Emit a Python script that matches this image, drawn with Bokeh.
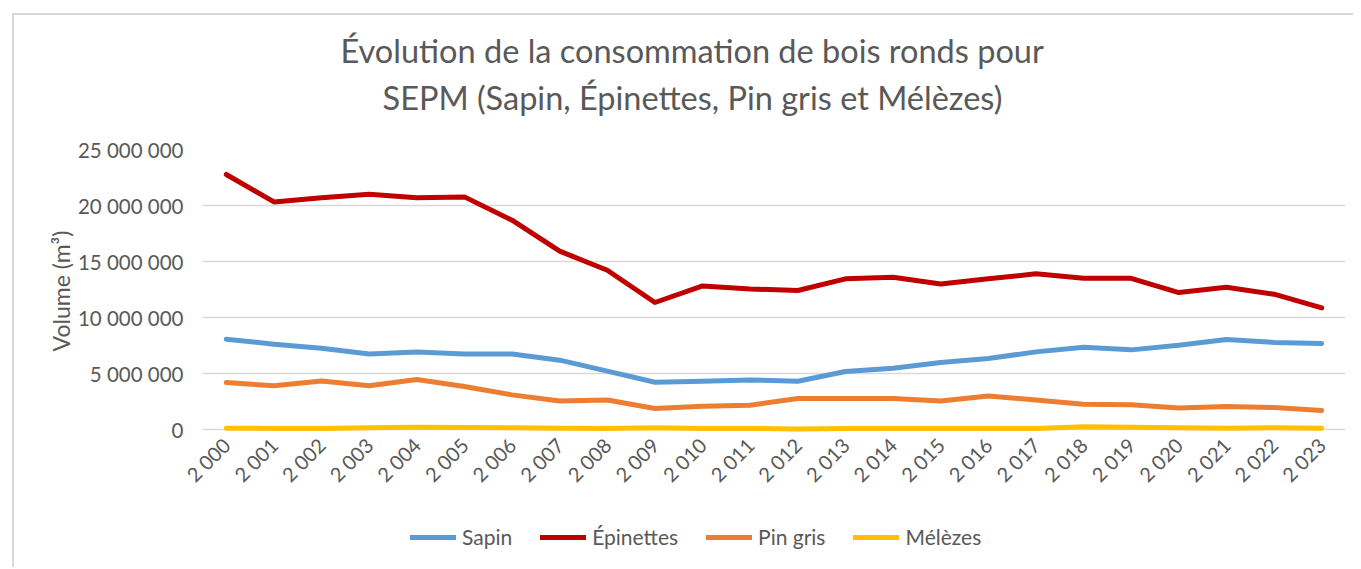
from bokeh.plotting import figure
from bokeh.layouts import column
from bokeh.models import (FactorRange, Range1d, FixedTicker, Legend, LegendItem, Title)
from bokeh.embed import file_html
from bokeh.resources import INLINE
import math

years = ["2 000", "2 001", "2 002", "2 003", "2 004", "2 005", "2 006", "2 007",
         "2 008", "2 009", "2 010", "2 011", "2 012", "2 013", "2 014", "2 015",
         "2 016", "2 017", "2 018", "2 019", "2 020", "2 021", "2 022", "2 023"]

sapin = [8060000, 7620000, 7260000, 6750000, 6930000, 6750000, 6750000, 6190000,
         5210000, 4220000, 4310000, 4430000, 4310000, 5180000, 5470000, 5980000,
         6340000, 6930000, 7350000, 7110000, 7530000, 8040000, 7770000, 7680000]

epinettes = [22770000, 20320000, 20700000, 21000000, 20700000, 20770000, 18690000, 15920000,
             14220000, 11340000, 12820000, 12550000, 12410000, 13450000, 13600000, 13000000,
             13450000, 13900000, 13500000, 13500000, 12230000, 12700000, 12080000, 10860000]

pin_gris = [4190000, 3900000, 4340000, 3900000, 4460000, 3840000, 3090000, 2550000,
            2640000, 1870000, 2080000, 2170000, 2770000, 2770000, 2770000, 2550000,
            3000000, 2640000, 2260000, 2200000, 1930000, 2050000, 1960000, 1700000]

melezes = [120000, 100000, 100000, 150000, 200000, 180000, 150000, 120000,
           100000, 150000, 100000, 100000, 50000, 80000, 80000, 80000,
           100000, 80000, 250000, 200000, 150000, 120000, 150000, 120000]

series_names = ["Sapin", "Épinettes", "Pin gris", "Mélèzes"]
series_colors = ["#5b9bd5", "#c00000", "#ed7d31", "#ffc000"]
series_values = [sapin, epinettes, pin_gris, melezes]

y_tick_values = [0, 5000000, 10000000, 15000000, 20000000, 25000000]
y_tick_labels = ["0", "5 000 000", "10 000 000", "15 000 000", "20 000 000", "25 000 000"]

title_lines = ["Évolution de la consommation de bois ronds pour",
               "SEPM (Sapin, Épinettes, Pin gris et Mélèzes)"]
y_label = "Volume (m³)"

FONT = "Lato"
TXT = "#595959"

# the whole chart sits inside a light frame whose top-left corner is at (12, 13)
OX, OY, BW = 12, 13, 2
W = 1339
H_MAIN, H_LEG = 484, 68
FL, FT, FR, FB = 188, 134, 8, 67
Y_MAX = 25000000
PAD_PX, GRID_PX = 3, 280          # a little room under 0 so the 0-level line is not cut
Y_MIN = -Y_MAX * PAD_PX / GRID_PX

p = figure(width=W, height=H_MAIN, x_range=FactorRange(*years), y_range=Range1d(Y_MIN, Y_MAX),
           output_backend="svg", toolbar_location=None,
           min_border_left=FL, min_border_top=FT, min_border_right=FR, min_border_bottom=FB)
p.outline_line_color = None
p.background_fill_color = "white"
p.border_fill_color = "white"

p.title.text = title_lines[0]
p.title.align = "left"
p.title.offset = 138
p.title.text_font = FONT
p.title.text_font_size = "32.5px"
p.title.text_font_style = "normal"
p.title.text_color = TXT
p.title.standoff = -55
p.add_layout(Title(text=title_lines[1], align="left", offset=180, text_font=FONT,
                   text_font_size="32.5px", text_font_style="normal", text_color=TXT,
                   standoff=66), "above")

p.xgrid.grid_line_color = None
p.ygrid.grid_line_color = "#d9d9d9"
p.ygrid.grid_line_width = 1.3

p.yaxis.ticker = FixedTicker(ticks=y_tick_values)
p.ygrid.ticker = FixedTicker(ticks=y_tick_values)
p.yaxis.major_label_overrides = dict(zip(y_tick_values, y_tick_labels))
p.yaxis.axis_line_color = None
p.yaxis.major_tick_line_color = None
p.yaxis.minor_tick_line_color = None
p.yaxis.major_label_text_font = FONT
p.yaxis.major_label_text_font_size = "20.5px"
p.yaxis.major_label_text_color = TXT
p.yaxis.major_label_standoff = 13
p.yaxis.axis_label = y_label
p.yaxis.axis_label_text_font = FONT
p.yaxis.axis_label_text_font_size = "23px"
p.yaxis.axis_label_text_font_style = "normal"
p.yaxis.axis_label_text_color = TXT
p.yaxis.axis_label_standoff = 0

p.xaxis.axis_line_color = None
p.xaxis.major_tick_line_color = None
p.xaxis.minor_tick_line_color = None
p.xaxis.major_label_text_font = FONT
p.xaxis.major_label_text_font_size = "20px"
p.xaxis.major_label_text_color = TXT
p.xaxis.major_label_orientation = math.pi / 4
p.xaxis.major_label_standoff = 3

for vals, col in zip(series_values, series_colors):
    p.line(years, vals, line_color=col, line_width=5, line_cap="round", line_join="round")

# legend strip below the chart (its lines fall outside its y range, only the legend shows)
leg = figure(width=W, height=H_LEG, x_range=FactorRange(*years), y_range=Range1d(-2e9, -1e9),
             output_backend="svg", toolbar_location=None, x_axis_type=None, y_axis_type=None,
             min_border_left=0, min_border_right=0, min_border_top=0, min_border_bottom=0)
leg.outline_line_color = None
leg.grid.visible = False
leg.border_fill_color = "white"
leg_renderers = [leg.line(years, vals, line_color=c, line_width=5, line_cap="round")
                 for vals, c in zip(series_values, series_colors)]
legend = Legend(items=[LegendItem(label=n, renderers=[r]) for n, r in zip(series_names, leg_renderers)],
                orientation="horizontal", location=(208, 18),
                glyph_width=46, glyph_height=20, label_standoff=6, spacing=28,
                padding=0, margin=0, border_line_color=None, background_fill_alpha=0,
                label_text_font=FONT, label_text_font_size="21px", label_text_color=TXT,
                label_height=20)
leg.add_layout(legend, "center")

layout = column(p, leg, spacing=0, margin=(OY, 0, 0, OX),
                styles={"border-left": f"{BW}px solid #d9d9d9", "border-top": f"{BW}px solid #d9d9d9"})
open("out.html", "w").write(file_html(layout, INLINE))
